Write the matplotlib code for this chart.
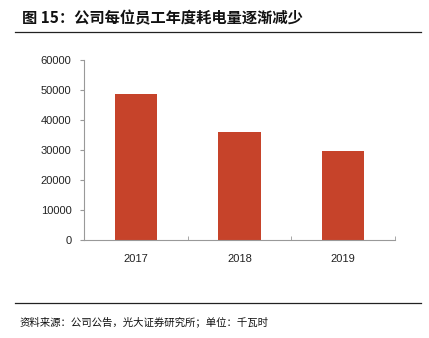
import matplotlib
matplotlib.use("Agg")
import matplotlib.pyplot as plt
from matplotlib.lines import Line2D

categories = ["2017", "2018", "2019"]
values = [48800, 36000, 29700]
yticks = [0, 10000, 20000, 30000, 40000, 50000, 60000]
title = "图 15：公司每位员工年度耗电量逐渐减少"
footer = "资料来源：公司公告，光大证券研究所；单位：千瓦时"

plt.rcParams['font.family'] = ['Liberation Sans', 'Noto Sans CJK SC', 'DejaVu Sans']

fig = plt.figure(figsize=(4.29, 3.38), dpi=100)
ax = fig.add_axes([84/429, 1-240/338, (395-84)/429, 180/338])

x = list(range(len(categories)))
ax.bar(x, values, width=0.41, color="#C6432A", zorder=2)
ax.set_xlim(-0.5, len(categories)-0.5)
ax.set_ylim(0, 60000)
ax.set_yticks(yticks)
ax.set_yticklabels([str(v) for v in yticks], fontsize=8, color="#222222")
ax.set_xticks(x)
ax.set_xticklabels(categories, fontsize=8, color="#222222")
ax.tick_params(axis='x', length=0, pad=10)
ax.set_xticks([i+0.5 for i in x], minor=True)
ax.tick_params(axis='x', which='minor', direction='in', length=3, color="#999999")
ax.tick_params(axis='y', direction='out', length=3, color="#999999", pad=6)
for s in ['top', 'right']:
    ax.spines[s].set_visible(False)
for s in ['left', 'bottom']:
    ax.spines[s].set_color("#999999")
    ax.spines[s].set_linewidth(0.8)

fig.text(22/429, 1-18/338, title, fontsize=11, fontweight='bold',
         family=['Noto Sans CJK SC', 'DejaVu Sans'], va='center', ha='left', color="#111111")
fig.add_artist(Line2D([15/429, 421/429], [1-32/338, 1-32/338], color="#222222", lw=0.9))
fig.add_artist(Line2D([15/429, 421/429], [1-303/338, 1-303/338], color="#222222", lw=0.9))
fig.text(20/429, 1-322/338, footer, fontsize=7.5,
         family=['Noto Sans CJK SC', 'DejaVu Sans'], va='center', ha='left', color="#111111")

fig.savefig("out.png", dpi=100)
